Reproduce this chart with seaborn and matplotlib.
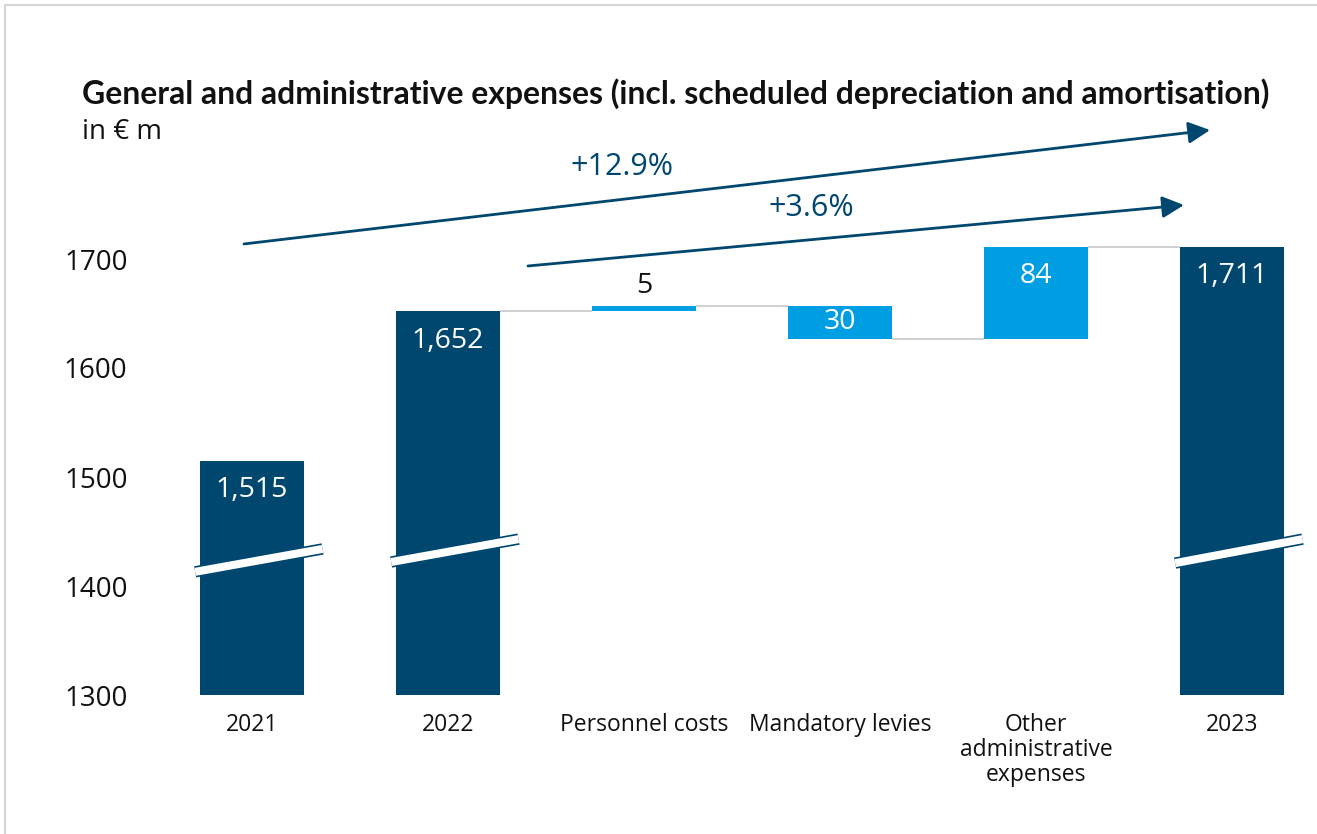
import matplotlib
matplotlib.use("Agg")
import matplotlib.pyplot as plt
import seaborn as sns
import numpy as np
import pandas as pd
from matplotlib.patches import Rectangle

# ---------------- data ----------------
categories = ["2021", "2022", "Personnel costs", "Mandatory levies",
              "Other\nadministrative\nexpenses", "2023"]
values = [1515, 1652, 5, -30, 84, 1711]
is_total = [True, True, False, False, False, True]
value_labels = ["1,515", "1,652", "5", "30", "84", "1,711"]
y_ticks = [1300, 1400, 1500, 1600, 1700]
growth_labels = ["+12.9%", "+3.6%"]
title = "General and administrative expenses (incl. scheduled depreciation and amortisation)"
unit = "in € m"

DARK = "#00476F"
LIGHT = "#009FE3"
GREY = "#C4C4C4"

# waterfall geometry derived from values
bottoms, heights, tops = [], [], []
running = 0
for v, tot in zip(values, is_total):
    if tot:
        bottoms.append(0); heights.append(v); tops.append(v); running = v
    else:
        b = min(running, running + v)
        bottoms.append(b); heights.append(abs(v)); tops.append(b + abs(v))
        running += v

sns.set_theme(style="white")
plt.rcParams["font.family"] = ["Open Sans", "DejaVu Sans"]

fig = plt.figure(figsize=(13.17, 8.34), dpi=100)
ax = fig.add_axes([165 / 1317, 1 - 695 / 834, 1145 / 1317, (695 - 41) / 834])

df = pd.DataFrame({"cat": categories, "height": heights})
W = 0.53
sns.barplot(data=df, x="cat", y="height", bottom=bottoms, width=W,
            color=DARK, errorbar=None, ax=ax, zorder=2, linewidth=0)
for p, tot in zip(ax.patches, is_total):
    p.set_facecolor(DARK if tot else LIGHT)
    p.set_edgecolor("none")

ax.set_xlim((165 - 252) / 196, (1310 - 252) / 196)
ax.set_ylim(1300, 1900)
ax.set_yticks(y_ticks)
ax.set_yticklabels([str(t) for t in y_ticks])
ax.set_xlabel("")
ax.set_ylabel("")
for s in ax.spines.values():
    s.set_visible(False)
ax.tick_params(axis="y", length=0, pad=27, labelsize=20, colors="#111111")
ax.tick_params(axis="x", length=0, pad=13, labelsize=16.5, colors="#111111")
for lbl in ax.get_xticklabels():
    lbl.set_linespacing(1.05)
ax.grid(False)

# connectors
for i in range(len(values) - 1):
    if is_total[i] and is_total[i + 1]:
        continue
    y = tops[i] if (is_total[i] or values[i] > 0) else bottoms[i]
    ax.plot([i + W / 2, i + 1 - W / 2], [y, y], color=GREY, lw=1.1, zorder=1,
            solid_capstyle="butt")

# value labels
for i, (lab, tot) in enumerate(zip(value_labels, is_total)):
    if tot or values[i] > 50:
        ax.text(i, tops[i] - 27, lab, ha="center", va="center", color="white",
                fontsize=20.5, zorder=5)
    elif heights[i] >= 20:
        ax.text(i, (tops[i] + bottoms[i]) / 2, lab, ha="center", va="center",
                color="white", fontsize=20.5, zorder=5)
    else:
        ax.text(i, tops[i] + 18, lab, ha="center", va="center", color="#111111",
                fontsize=20.5, zorder=5)

# axis breaks on total bars
breaks = {0: (1413, 1434), 1: (1422, 1443), 5: (1421, 1443)}
for i, (yl, yr) in breaks.items():
    xs = [i - 0.29, i + 0.36]
    ax.plot(xs, [yl, yr], color=DARK, lw=8.2, solid_capstyle="butt", zorder=3)
    ax.plot(xs, [yl, yr], color="white", lw=5.8, solid_capstyle="butt", zorder=4)

# growth arrows
arrow_kw = dict(arrowstyle="-|>,head_length=1.1,head_width=0.55", color=DARK,
                lw=2.0, shrinkA=0, shrinkB=0)
ax.annotate("", xy=(4.888, 1818.3), xytext=(-0.041, 1713.8),
            arrowprops=arrow_kw, zorder=6, annotation_clip=False)
ax.annotate("", xy=(4.755, 1749.5), xytext=(1.408, 1693.6),
            arrowprops=arrow_kw, zorder=6, annotation_clip=False)
ax.text(1.888, 1784.4, growth_labels[0], ha="center", va="center",
        color=DARK, fontsize=22)
ax.text(2.852, 1746.8, growth_labels[1], ha="center", va="center",
        color=DARK, fontsize=22)

# title and unit
t = fig.text(82 / 1317, 1 - 104 / 834, title, ha="left", va="baseline",
             fontsize=19, fontweight="bold", color="#111111",
             family=["Lato", "DejaVu Sans"])
fig.canvas.draw()
w = t.get_window_extent().width
t.set_fontsize(19 * 1186 / w)
fig.text(82 / 1317, 1 - 139 / 834, unit, ha="left", va="baseline",
         fontsize=20, color="#111111")

# frame
fig.patches.append(Rectangle((5 / 1317, -0.05), 1.2, 1 - 5 / 834 + 0.05,
                             transform=fig.transFigure, fill=False,
                             edgecolor="#D6D6D6", lw=1.5))

fig.savefig("out.png", dpi=100)
